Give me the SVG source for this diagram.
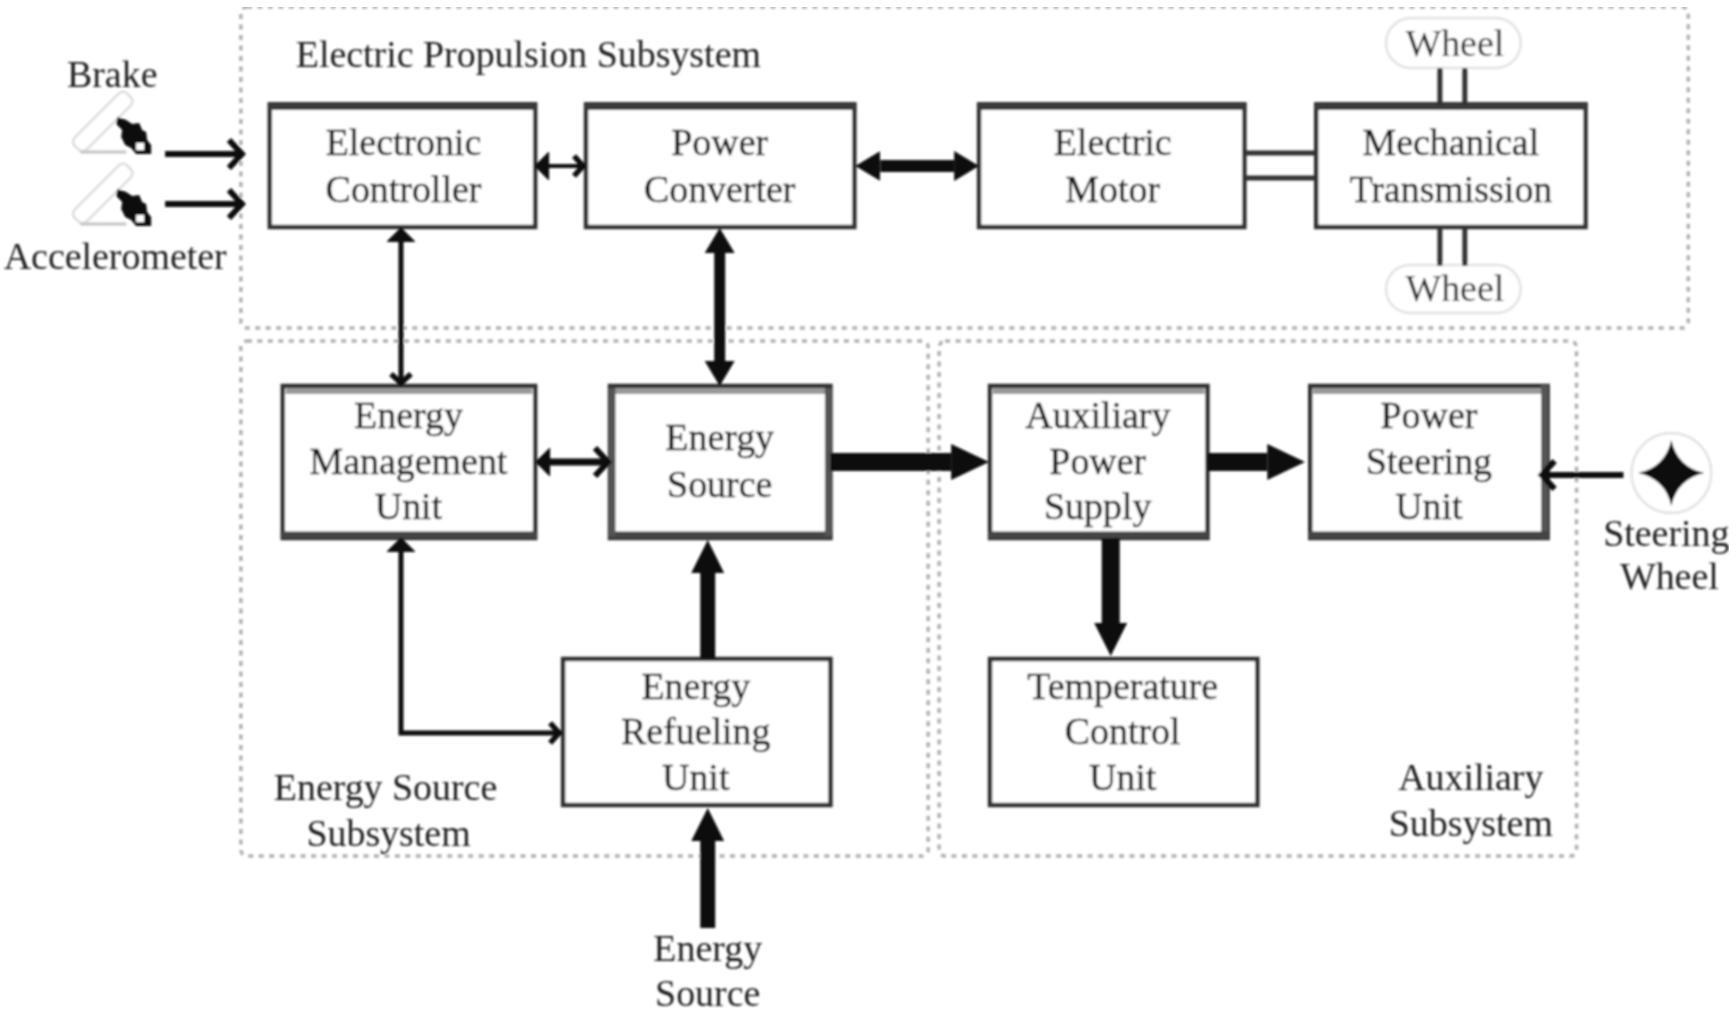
<svg xmlns="http://www.w3.org/2000/svg" width="1736" height="1013" viewBox="0 0 1736 1013">
<style>
text{font-family:"Liberation Serif","Times New Roman",serif;font-size:38px;fill:#222;text-anchor:middle}
text.l{text-anchor:start}
.box~text{fill:#111;stroke:#222;stroke-width:.4}
.box{fill:#fff;stroke:#333;stroke-width:4.5}
.edge{stroke:#3a3a3a;stroke-width:8;fill:none}
.low{stroke:#444;stroke-width:7;fill:none}
.side{stroke:#555;stroke-width:7;fill:none}
.band{stroke:#999;stroke-width:6;fill:none}
.dash{fill:none;stroke:#b0b0b0;stroke-width:3.500;stroke-dasharray:5 5.500}
.c{fill:none;stroke:#0a0a0a}
.pill{fill:#fff;stroke:#e2e2e2;stroke-width:2.500}
.shaft{stroke:#333;stroke-width:5;fill:none}
</style>
<defs>
<filter id="soft" x="0" y="0" width="100%" height="100%"><feGaussianBlur stdDeviation="0.9"/></filter>
<marker id="stick" viewBox="-20 -20 26 40" refX="0" refY="0" markerWidth="26" markerHeight="40" markerUnits="userSpaceOnUse" orient="auto-start-reverse"><path d="M-13,-14 L0,0 L-13,14" fill="none" stroke="#0a0a0a" stroke-width="6"/></marker>
<marker id="stickS" viewBox="-16 -14 20 28" refX="0" refY="0" markerWidth="20" markerHeight="28" markerUnits="userSpaceOnUse" orient="auto-start-reverse"><path d="M-9,-10 L0,0 L-9,10" fill="none" stroke="#0a0a0a" stroke-width="5.500"/></marker>
<marker id="stickF" viewBox="-16 -14 20 28" refX="0" refY="0" markerWidth="20" markerHeight="28" markerUnits="userSpaceOnUse" orient="auto-start-reverse"><path d="M-10,-10 L0,0 L-10,10 Z" fill="#0a0a0a" stroke="#0a0a0a" stroke-width="4"/></marker>
<marker id="triL" viewBox="0 -18 38 36" refX="0" refY="0" markerWidth="38" markerHeight="36" markerUnits="userSpaceOnUse" orient="auto-start-reverse"><path d="M0,-18 L38,0 L0,18 Z" fill="#0a0a0a"/></marker>
<marker id="triM" viewBox="0 -16.500 33 33" refX="0" refY="0" markerWidth="33" markerHeight="33" markerUnits="userSpaceOnUse" orient="auto-start-reverse"><path d="M0,-16.500 L33,0 L0,16.500 Z" fill="#0a0a0a"/></marker>
<marker id="triS" viewBox="0 -15 25 30" refX="0" refY="0" markerWidth="25" markerHeight="30" markerUnits="userSpaceOnUse" orient="auto-start-reverse"><path d="M0,-15 L25,0 L0,15 Z" fill="#0a0a0a"/></marker>
<g id="pedalShape">
<rect x="-8.500" y="-37" width="17" height="74" rx="6" transform="translate(102.500,122.500) rotate(45)" fill="#fff" stroke="#dcdcdc" stroke-width="2.500"/>
<path d="M80,153 H126" stroke="#c4c4c4" stroke-width="3" fill="none"/>
<path d="M117,118 L126,121 L132,125 L139,124 L142,131 L146,133 L147,141 L151,146 L151,155 L136,155 L131,149 L125,146 L121,138 L122,131 L116,125 Z" fill="#0a0a0a"/>
<rect x="136" y="144" width="8" height="7" fill="#fff"/>
</g>
</defs>
<rect width="1736" height="1013" fill="#fff"/>
<g filter="url(#soft)" transform="translate(0.5,-1) scale(0.9975,1)">
<g id="subsystems">
<g id="electric-propulsion-subsystem"><rect class="dash" x="241" y="8" width="1451" height="321" rx="6"/><text class="l" x="296" y="68">Electric Propulsion Subsystem</text></g>
<g id="energy-source-subsystem"><rect class="dash" x="241" y="342" width="689" height="515" rx="6"/><text x="386" y="801">Energy Source</text><text x="389" y="847">Subsystem</text></g>
<g id="auxiliary-subsystem"><rect class="dash" x="941" y="342" width="639" height="515" rx="6"/><text x="1474" y="791">Auxiliary</text><text x="1474" y="837">Subsystem</text></g>
</g>
<g id="brake"><use href="#pedalShape"/><text x="112" y="88">Brake</text></g>
<g id="accelerometer"><use href="#pedalShape" y="72"/><text x="115" y="270">Accelerometer</text></g>
<g id="electronic-controller"><rect class="box" x="270" y="106" width="266" height="122"/><path class="edge" d="M268,107 H538"/><text x="404" y="156">Electronic</text><text x="404" y="203">Controller</text></g>
<g id="power-converter"><rect class="box" x="587" y="106" width="269" height="122"/><path class="edge" d="M585,107 H858"/><text x="721" y="156">Power</text><text x="721" y="203">Converter</text></g>
<g id="electric-motor"><rect class="box" x="981" y="106" width="266" height="122"/><path class="edge" d="M979,107 H1249"/><text x="1115" y="156">Electric</text><text x="1115" y="203">Motor</text></g>
<g id="mechanical-transmission"><rect class="box" x="1319" y="106" width="270" height="122"/><path class="edge" d="M1317,107 H1591"/><text x="1454" y="156">Mechanical</text><text x="1454" y="203">Transmission</text></g>
<g id="wheel-top"><rect class="pill" x="1389" y="19" width="135" height="50" rx="25"/><text x="1458" y="57">Wheel</text></g>
<g id="wheel-bottom"><rect class="pill" x="1389" y="266" width="135" height="48" rx="24"/><text x="1458" y="302">Wheel</text></g>
<g id="energy-management-unit"><rect class="box" x="283" y="387" width="253" height="152"/><path class="band" d="M286,392 H533"/><path class="low" d="M281,536 H538"/><text x="409" y="429">Energy</text><text x="409" y="475">Management</text><text x="409" y="520">Unit</text></g>
<g id="energy-source"><rect class="box" x="611" y="387" width="221" height="152"/><path class="band" d="M614,392 H829"/><path class="low" d="M609,536 H834"/><path class="side" d="M613,389 V537 M830,389 V537"/><text x="721" y="451">Energy</text><text x="721" y="498">Source</text></g>
<g id="auxiliary-power-supply"><rect class="box" x="992" y="387" width="218" height="152"/><path class="band" d="M995,392 H1207"/><path class="low" d="M990,536 H1212"/><text x="1100" y="429">Auxiliary</text><text x="1100" y="475">Power</text><text x="1100" y="520">Supply</text></g>
<g id="power-steering-unit"><rect class="box" x="1313" y="387" width="238" height="152"/><path class="band" d="M1316,392 H1545"/><path class="side" d="M1548,386 V540"/><path class="low" d="M1311,536 H1551"/><text x="1432" y="429">Power</text><text x="1432" y="475">Steering</text><text x="1432" y="520">Unit</text></g>
<g id="energy-refueling-unit"><rect class="box" x="564" y="660" width="268" height="146"/><text x="697" y="700">Energy</text><text x="697" y="745">Refueling</text><text x="697" y="791">Unit</text></g>
<g id="temperature-control-unit"><rect class="box" x="992" y="660" width="268" height="146"/><text x="1125" y="700">Temperature</text><text x="1125" y="745">Control</text><text x="1125" y="791">Unit</text></g>
<g id="energy-source-input"><text x="709" y="962">Energy</text><text x="709" y="1007">Source</text></g>
<g id="steering-wheel"><circle cx="1675" cy="474" r="40" fill="#fff" stroke="#e2e2e2" stroke-width="2.500"/><path d="M1675,441 Q1681,468 1708,474 Q1681,480 1675,507 Q1669,480 1642,474 Q1669,468 1675,441 Z" fill="#0a0a0a"/><text x="1670" y="547">Steering</text><text x="1673" y="590">Wheel</text></g>
<g id="connectors">
<path class="c" stroke-width="6" d="M165,155 H242" marker-end="url(#stick)"/>
<path class="c" stroke-width="6" d="M165,205 H242" marker-end="url(#stick)"/>
<path class="c" stroke-width="4" d="M538,167 H584" marker-start="url(#stickF)" marker-end="url(#stickS)"/>
<path class="c" stroke-width="12" d="M882,167 H956" marker-start="url(#triS)" marker-end="url(#triS)"/>
<path class="shaft" d="M1247,154 H1319 M1247,179 H1319"/>
<path class="shaft" d="M1443,69 V106 M1468,69 V106 M1443,229 V267 M1468,229 V267"/>
<path class="c" stroke-width="5" d="M401.500,231 V384" marker-start="url(#stickF)" marker-end="url(#stickS)"/>
<path class="c" stroke-width="11" d="M721,254 V362" marker-start="url(#triS)" marker-end="url(#triS)"/>
<path class="c" stroke-width="7" d="M539,463 H609" marker-start="url(#stickF)" marker-end="url(#stick)"/>
<path class="c" stroke-width="18" d="M832,463 H953" marker-end="url(#triL)"/>
<path class="c" stroke-width="18" d="M1210,463 H1270" marker-end="url(#triL)"/>
<path class="c" stroke-width="18" d="M1113,539 V624" marker-end="url(#triM)"/>
<path class="c" stroke-width="15" d="M709,660 V574" marker-end="url(#triM)"/>
<path class="c" stroke-width="15" d="M709,929 V842" marker-end="url(#triM)"/>
<path class="c" stroke-width="5" d="M401.500,541 V734 H560" marker-start="url(#stickF)" marker-end="url(#stickS)"/>
<path class="c" stroke-width="6" d="M1627,476 H1545" marker-end="url(#stick)"/>
</g>
</g>
</svg>
